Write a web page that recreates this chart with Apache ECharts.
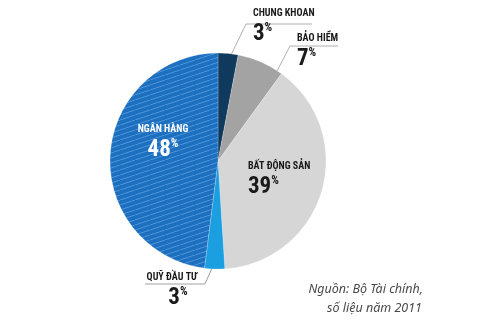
<!DOCTYPE html>
<html>
<head>
<meta charset="utf-8">
<script src="https://cdn.jsdelivr.net/npm/echarts@6/dist/echarts.min.js"></script>
<style>
  html, body { margin: 0; padding: 0; background: #fff; }
  #chart { width: 500px; height: 330px; }
</style>
</head>
<body>
<div id="chart"></div>
<script>
// Cơ cấu phân bổ (%), theo chiều kim đồng hồ từ đỉnh
const categories = ['CHUNG KHOAN', 'BẢO HIỂM', 'BẤT ĐỘNG SẢN', 'QUỸ ĐẦU TƯ', 'NGÂN HÀNG'];
const values = [3, 7, 39, 3, 48];
const sourceLines = ['Nguồn: Bộ Tài chính,', 'số liệu năm 2011'];

const FONT = '"Roboto Condensed", "DejaVu Sans Condensed", sans-serif';

// Vân sọc chéo cho lát "Ngân hàng"
function stripePattern() {
  const c = document.createElement('canvas');
  const w = 15, h = 5;
  c.width = w; c.height = h;
  const g = c.getContext('2d');
  g.fillStyle = '#1d6fc0';
  g.fillRect(0, 0, w, h);
  g.strokeStyle = 'rgba(110,170,230,0.7)';
  g.lineWidth = 0.9;
  for (const off of [-w, 0, w]) {
    g.beginPath();
    g.moveTo(off, h);
    g.lineTo(off + w, 0);
    g.stroke();
  }
  return c;
}

const sliceColors = [
  '#0f3a5e',
  '#a3a3a3',
  '#d6d6d6',
  '#1b9fe0',
  { image: stripePattern(), repeat: 'repeat' }
];

// Vị trí nhãn và đường dẫn cho từng lát
const labelSpots = [
  { x: 253, y: 5, align: 'left', line: [[231, 55], [246, 24], [312, 24]], lineColor: '#9a9a9a' },
  { x: 297, y: 30, align: 'left', line: [[277, 71], [290, 46], [338, 46]], lineColor: '#9a9a9a' },
  { x: 248, y: 158, align: 'left', line: [[240, 174], [276, 174], [312, 174]], lineColor: '#777' },
  { x: 172, y: 269, align: 'center', line: [[145, 284], [205, 284], [212, 268]], lineColor: '#888' },
  { x: 163, y: 121, align: 'center', line: [[136, 136], [163, 136], [190, 136]], lineColor: 'rgba(255,255,255,0.85)' }
];

const chart = echarts.init(document.getElementById('chart'), null, { renderer: 'canvas' });

const dataItems = categories.map((name, i) => {
  const white = i === 4;
  const txt = white ? '#ffffff' : '#1a1a1a';
  return {
    name: name,
    value: values[i],
    itemStyle: { color: sliceColors[i] },
    label: {
      align: labelSpots[i].align,
      rich: {
        n: { fontFamily: FONT, fontWeight: 'bold', fontSize: 10, color: txt, lineHeight: 17 },
        v: { fontFamily: FONT, fontWeight: 'bold', fontSize: 23, color: txt, lineHeight: 24,
             padding: i === 3 ? [0, 0, 0, 12] : 0 },
        p: { fontFamily: FONT, fontWeight: 'bold', fontSize: 12, color: txt, verticalAlign: 'top',
             lineHeight: 18 }
      }
    },
    labelLine: { lineStyle: { color: labelSpots[i].lineColor, width: 0.8 } }
  };
});

chart.setOption({
  animation: false,
  series: [{
    type: 'pie',
    center: [218, 161],
    radius: 108,
    startAngle: 90,
    clockwise: true,
    avoidLabelOverlap: false,
    itemStyle: { borderColor: 'rgba(255,255,255,0.5)', borderWidth: 0.4 },
    label: {
      show: true,
      position: 'outside',
      formatter: p => '{n|' + p.name + '}\n{v|' + p.value + '}{p|%}'
    },
    labelLine: { show: true, smooth: false },
    labelLayout: function (params) {
      const s = labelSpots[params.dataIndex];
      return {
        x: s.x,
        y: s.y,
        align: s.align,
        verticalAlign: 'top',
        labelLinePoints: s.line
      };
    },
    emphasis: { disabled: true },
    data: dataItems
  }],
  graphic: [
    {
      type: 'text', right: 77, top: 283,
      style: { text: sourceLines[0], fontFamily: '"Noto Sans", sans-serif', fontStyle: 'italic',
               fontSize: 12.5, fill: '#4a4a4a', textAlign: 'right' }
    },
    {
      type: 'text', right: 78, top: 302,
      style: { text: sourceLines[1], fontFamily: '"Noto Sans", sans-serif', fontStyle: 'italic',
               fontSize: 12.5, fill: '#4a4a4a', textAlign: 'right' }
    }
  ]
});
</script>
</body>
</html>
